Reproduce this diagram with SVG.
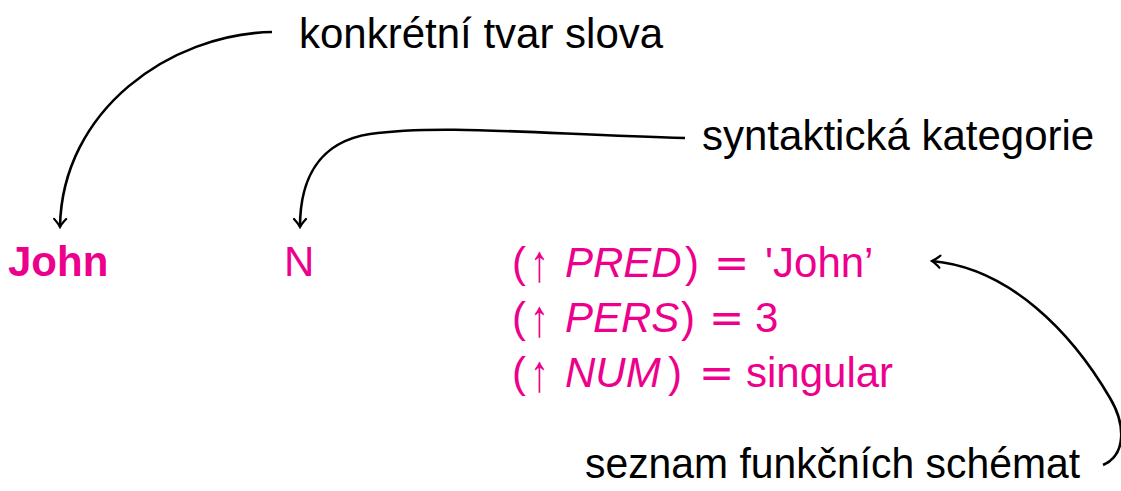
<svg xmlns="http://www.w3.org/2000/svg" width="1121" height="491" viewBox="0 0 1121 491">
<style>
text{font-family:"Liberation Sans",Arial,sans-serif;font-size:42px}
.lbl{fill:#000}
.m{fill:#EC008C}
.it{font-style:italic}
.eq{font-family:"DejaVu Sans",sans-serif}
.c{fill:none;stroke:#000;stroke-width:2.6;marker-end:url(#ah)}
</style>
<defs>
<marker id="ah" viewBox="-10 -8 12 16" refX="0" refY="0" markerWidth="12" markerHeight="16" markerUnits="userSpaceOnUse" orient="auto">
<path d="M-8,-6 Q-3,-1.5 0,0 Q-3,1.5 -8,6" fill="none" stroke="#000" stroke-width="2.2" stroke-linecap="round"/>
</marker>
</defs>
<rect width="1121" height="491" fill="#fff"/>
<g id="connectors">
<path class="c" d="M272,32 C170,34 62,110 60,227"/>
<path class="c" d="M685,138 C540,134 440,124 370,134 C318,142 300,180 300,227"/>
<path class="c" d="M1103,465 C1126,455 1126,425 1110,398 C1072,333 1010,268 932,261"/>
</g>
<g id="lbl-form"><text class="lbl" x="299" y="48">konkrétní tvar slova</text></g>
<g id="lbl-cat"><text class="lbl" x="702" y="150">syntaktická kategorie</text></g>
<g id="lbl-schema"><text class="lbl" x="585" y="478" textLength="495" lengthAdjust="spacingAndGlyphs">seznam funkčních schémat</text></g>
<g id="word"><text class="m" x="8" y="276" font-weight="bold">John</text></g>
<g id="cat"><text class="m" x="284" y="276">N</text></g>
<g id="schemata" class="m">
<g id="s1">
<text class="m" x="512" y="277">(</text>
<text class="m" transform="translate(530,281) scale(0.9,1.25)" x="0" y="0">↑</text>
<text class="m it" x="565" y="277">PRED</text>
<text class="m" x="685" y="277">)</text>
<text class="m eq" x="714" y="277">=</text>
<text class="m" x="765" y="277">'John’</text>
</g>
<g id="s2">
<text class="m" x="512" y="332">(</text>
<text class="m" transform="translate(530,336) scale(0.9,1.25)" x="0" y="0">↑</text>
<text class="m it" x="565" y="332">PERS</text>
<text class="m" x="681" y="332">)</text>
<text class="m eq" x="709" y="332">=</text>
<text class="m" x="755" y="332">3</text>
</g>
<g id="s3">
<text class="m" x="512" y="387">(</text>
<text class="m" transform="translate(530,391) scale(0.9,1.25)" x="0" y="0">↑</text>
<text class="m it" x="565" y="387">NUM</text>
<text class="m" x="668" y="387">)</text>
<text class="m eq" x="699" y="387">=</text>
<text class="m" x="746" y="387">singular</text>
</g>
</g>
</svg>
